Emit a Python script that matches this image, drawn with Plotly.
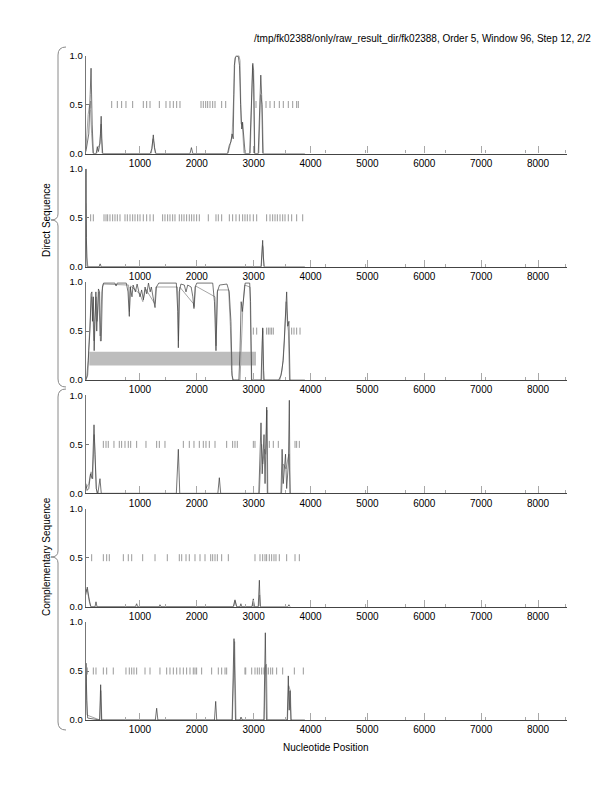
import plotly.graph_objects as go

# ---------------- data ----------------
TITLE = "/tmp/fk02388/only/raw_result_dir/fk02388, Order 5, Window 96, Step 12, 2/2"
X_TICKS = [1000, 2000, 3000, 4000, 5000, 6000, 7000, 8000]
Y_TICKS = [0.0, 0.5, 1.0]
Y_TICK_TEXT = ["0.0", "0.5", "1.0"]

P1_BLACK_X = [50, 100, 125, 140, 160, 180, 230, 250, 270, 290, 305, 318, 330, 345, 1180, 1210, 1235, 1255, 1280,
              1880, 1905, 1930, 2540, 2570, 2600, 2620, 2640, 2660, 2680, 2700, 2730, 2750, 2770, 2790, 2805, 2820,
              2850, 2930, 2950, 2970, 2985, 3000, 3015, 3080, 3105, 3125, 3140, 3160, 3180, 3900]
P1_BLACK_Y = [0.02, 0.2, 0.6, 0.87, 0.3, 0, 0, 0.07, 0.02, 0.08, 0.2, 0.38, 0.15, 0, 0, 0.05, 0.19, 0.06, 0,
              0, 0.06, 0, 0, 0.08, 0.12, 0.2, 0.15, 0.9, 0.98, 0.99, 0.99, 0.9, 0.5, 0.25, 0.32, 0.2,
              0, 0, 0.4, 0.85, 0.92, 0.7, 0, 0, 0.5, 0.8, 0.6, 0, 0, 0]
P1_GRAY_X = [50, 90, 115, 130, 150, 175, 240, 260, 300, 315, 335, 1200, 1230, 1250, 1270, 2550, 2590, 2620, 2650,
             2670, 2690, 2740, 2760, 2780, 2800, 2830, 2940, 2960, 2980, 3000, 3020, 3090, 3120, 3150, 3170]
P1_GRAY_Y = [0.05, 0.4, 0.5, 0.45, 0.2, 0, 0, 0.06, 0.1, 0.3, 0, 0, 0.15, 0.1, 0, 0, 0.1, 0.18, 0.6,
             0.97, 1.0, 1.0, 0.95, 0.3, 0.3, 0, 0, 0.6, 0.9, 0.85, 0, 0, 0.6, 0.5, 0]
P1_MARKS = [133, 503, 602, 678, 754, 872, 1059, 1118, 1177, 1341, 1458, 1528, 1587, 1646, 1704, 2074, 2114, 2156,
            2191, 2232, 2279, 2320, 2437, 2508, 3041, 3217, 3287, 3363, 3451, 3521, 3609, 3686, 3756, 3785]

P2_BLACK_X = [46, 52, 58, 70, 280, 300, 320, 3130, 3150, 3158, 3170, 3185, 3900]
P2_BLACK_Y = [0.3, 1.0, 0.3, 0, 0, 0.03, 0, 0, 0.15, 0.27, 0.1, 0, 0]
P2_GRAY_X = [46, 55, 65, 85, 3135, 3155, 3165, 3180]
P2_GRAY_Y = [0.65, 0.4, 0.1, 0, 0, 0.22, 0.2, 0]
P2_MARKS = [133, 180, 368, 403, 432, 473, 520, 561, 602, 649, 737, 778, 825, 872, 913, 960, 1001, 1059, 1118,
            1177, 1235, 1399, 1440, 1487, 1528, 1575, 1616, 1692, 1734, 1775, 1821, 1868, 1909, 1950, 1997, 2044,
            2202, 2337, 2378, 2437, 2572, 2630, 2689, 2748, 2806, 2847, 2888, 2935, 2994, 3053, 3228, 3287, 3334,
            3375, 3416, 3463, 3510, 3551, 3609, 3668, 3756, 3862]

P3_BLACK_X = [50, 80, 100, 120, 140, 155, 165, 180, 195, 210, 225, 240, 255, 270, 290, 305, 320, 340, 360, 560,
              580, 600, 760, 790, 813, 830, 860, 880, 920, 950, 1000, 1030, 1060, 1090, 1120, 1150, 1180, 1200,
              1230, 1265, 1290, 1330, 1640, 1665, 1675, 1690, 1720, 1780, 1810, 1840, 1900, 1930, 1950, 1970,
              2000, 2280, 2310, 2337, 2360, 2400, 2530, 2570, 2600, 2620, 2640, 2740, 2760, 2780, 2800, 2820,
              2850, 2930, 2945, 2965, 3130, 3150, 3160, 3175, 3185, 3440, 3480, 3520, 3550, 3580, 3600, 3620,
              3639, 3900]
P3_BLACK_Y = [0, 0.05, 0.3, 0.5, 0.88, 0.9, 0.6, 0.85, 0.3, 0.7, 0.9, 0.5, 0.85, 0.93, 0.9, 0.4, 0.4, 0.95,
              0.99, 0.99, 0.96, 0.99, 0.99, 0.9, 0.65, 0.95, 0.85, 0.97, 0.9, 0.98, 0.85, 0.92, 0.82, 0.95, 0.88,
              0.99, 0.9, 0.95, 0.85, 0.74, 0.95, 0.99, 0.99, 0.7, 0.33, 0.9, 0.98, 0.97, 0.9, 0.97, 0.95, 0.85,
              0.73, 0.95, 0.99, 0.99, 0.8, 0.3, 0.9, 0.97, 0.98, 0.9, 0.6, 0.05, 0, 0, 0.3, 0.8, 0.7, 0.85, 0.99,
              0.99, 0.8, 0, 0, 0.4, 0.53, 0.1, 0, 0, 0.05, 0.2, 0.6, 0.9, 0.55, 0.6, 0, 0]
P3_GRAY_X = [60, 90, 110, 130, 150, 170, 190, 205, 230, 250, 275, 300, 330, 355, 800, 815, 835, 1000, 1050,
             1100, 1260, 1280, 1660, 1678, 1700, 1940, 1955, 1980, 2320, 2340, 2365, 2560, 2590, 2610, 2630,
             2760, 2790, 2810, 2840, 2935, 2960, 3140, 3158, 3172, 3460, 3500, 3540, 3570, 3590, 3610, 3630]
P3_GRAY_Y = [0.02, 0.2, 0.45, 0.7, 0.85, 0.7, 0.4, 0.6, 0.85, 0.6, 0.9, 0.45, 0.9, 0.98, 0.97, 0.7, 0.96, 0.88,
             0.8, 0.93, 0.78, 0.95, 0.95, 0.4, 0.95, 0.78, 0.75, 0.96, 0.85, 0.35, 0.92, 0.92, 0.55, 0.1, 0,
             0, 0.5, 0.75, 0.97, 0.95, 0, 0, 0.5, 0, 0, 0.1, 0.4, 0.8, 0.6, 0.5, 0]
P3_MARKS = [2994, 3053, 3158, 3228, 3258, 3287, 3316, 3345, 3668, 3709, 3756, 3815]
P3_BAR_X = [110, 3041]
P3_BAR_Y = [0.148, 0.289]

P4_BLACK_X = [50, 70, 100, 130, 160, 192, 210, 230, 260, 297, 320, 1640, 1675, 1700, 2370, 2396, 2420, 3090, 3129,
              3150, 3182, 3200, 3229, 3240, 3480, 3500, 3520, 3560, 3580, 3610, 3627, 3639, 3900]
P4_BLACK_Y = [0.1, 0.03, 0.05, 0.2, 0.15, 0.7, 0.4, 0.05, 0, 0.15, 0, 0, 0.45, 0, 0, 0.16, 0, 0, 0.72,
              0.2, 0.6, 0.1, 0.88, 0, 0, 0.45, 0.1, 0.4, 0.05, 0.3, 0.95, 0, 0]
P4_GRAY_X = [50, 100, 140, 170, 195, 215, 240, 3100, 3140, 3160, 3190, 3210, 3235, 3250, 3490, 3520, 3570,
             3600, 3620, 3645]
P4_GRAY_Y = [0.05, 0.1, 0.22, 0.15, 0.6, 0.3, 0, 0, 0.5, 0.3, 0.45, 0.4, 0.85, 0, 0, 0.3, 0.25, 0.35, 0.4, 0]
P4_MARKS = [356, 403, 443, 543, 637, 678, 737, 795, 837, 942, 1106, 1294, 1341, 1440, 1763, 1868, 1950, 2044,
            2114, 2161, 2220, 2320, 2525, 2630, 2671, 2712, 2994, 3023, 3275, 3345, 3433, 3727, 3756, 3803]

P5_BLACK_X = [46, 74, 100, 133, 210, 227, 245, 920, 942, 960, 1340, 1352, 1370, 2640, 2671, 2700, 2760, 2775,
              2790, 2970, 2994, 3010, 3080, 3100, 3115, 3600, 3620, 3640]
P5_BLACK_Y = [0.12, 0.2, 0.1, 0, 0, 0.05, 0, 0, 0.03, 0, 0, 0.02, 0, 0, 0.07, 0, 0, 0.03, 0, 0, 0.08, 0, 0,
              0.27, 0, 0, 0.02, 0]
P5_GRAY_X = [46, 70, 110, 140, 2650, 2675, 2700, 2975, 2995, 3015, 3085, 3105, 3120]
P5_GRAY_Y = [0.15, 0.18, 0.05, 0, 0, 0.06, 0, 0, 0.06, 0, 0, 0.12, 0]
P5_MARKS = [151, 356, 415, 461, 708, 795, 855, 1048, 1265, 1481, 1692, 1734, 1810, 1868, 1968, 2056, 2144, 2244,
            2279, 2320, 2361, 2437, 2554, 3023, 3111, 3158, 3199, 3228, 3275, 3316, 3357, 3392, 3451, 3580, 3727,
            3803]

P6_BLACK_X = [46, 52, 65, 80, 290, 309, 325, 1270, 1294, 1315, 2310, 2332, 2350, 2620, 2654, 2680, 2760, 2777,
              2800, 3180, 3205, 3225, 3590, 3609, 3625, 3639, 3655, 3900]
P6_BLACK_Y = [0.4, 0.58, 0.2, 0.02, 0, 0.36, 0, 0, 0.12, 0, 0, 0.19, 0, 0, 0.83, 0, 0, 0.03, 0, 0, 0.89, 0,
              0, 0.45, 0.1, 0.3, 0, 0]
P6_GRAY_X = [46, 55, 70, 295, 312, 330, 2625, 2650, 2665, 2690, 3185, 3205, 3225, 3240, 3595, 3615, 3645, 3660]
P6_GRAY_Y = [0.5, 0.45, 0.05, 0, 0.3, 0, 0, 0.6, 0.8, 0, 0, 0.55, 0.57, 0, 0, 0.35, 0.3, 0]
P6_MARKS = [74, 180, 227, 356, 415, 531, 754, 813, 855, 895, 942, 1089, 1177, 1352, 1470, 1528, 1587, 1646,
            1704, 1763, 1821, 1880, 1938, 1968, 1997, 2085, 2261, 2378, 2437, 2496, 2525, 2847, 2860, 2965, 3023,
            3064, 3099, 3141, 3181, 3228, 3258, 3299, 3334, 3404, 3510, 3715, 3873]

PANELS = [
    (P1_GRAY_X, P1_GRAY_Y, P1_BLACK_X, P1_BLACK_Y, P1_MARKS),
    (P2_GRAY_X, P2_GRAY_Y, P2_BLACK_X, P2_BLACK_Y, P2_MARKS),
    (P3_GRAY_X, P3_GRAY_Y, P3_BLACK_X, P3_BLACK_Y, P3_MARKS),
    (P4_GRAY_X, P4_GRAY_Y, P4_BLACK_X, P4_BLACK_Y, P4_MARKS),
    (P5_GRAY_X, P5_GRAY_Y, P5_BLACK_X, P5_BLACK_Y, P5_MARKS),
    (P6_GRAY_X, P6_GRAY_Y, P6_BLACK_X, P6_BLACK_Y, P6_MARKS),
]
MARK_LEVEL = 0.5
X_RANGE = [46, 8510]
GROUP_LABELS = ["Direct Sequence", "Complementary Sequence"]
X_TITLE = "Nucleotide Position"

# ---------------- layout helpers ----------------
W, H = 612, 792
FONT = "Liberation Sans, Arial, Helvetica, sans-serif"


def fx(p):
    return p / W


def fy(p):
    return 1 - p / H


LEFT_PX, RIGHT_PX = 85.7, 567.0
TOPS = [55.5, 168.8, 282.1, 395.4, 508.7, 622.0]
PANEL_H = 98.0

fig = go.Figure()
layout = dict(
    width=W, height=H, margin=dict(l=0, r=0, t=0, b=0, autoexpand=False),
    paper_bgcolor="white", plot_bgcolor="white", showlegend=False,
    font=dict(family=FONT, size=10, color="black"),
)

for i, (gx, gy, bx, by, marks) in enumerate(PANELS):
    n = i + 1
    xa = "x" if n == 1 else f"x{n}"
    ya = "y" if n == 1 else f"y{n}"
    top = TOPS[i]
    bot = top + PANEL_H
    layout["xaxis" if n == 1 else f"xaxis{n}"] = dict(
        domain=[fx(LEFT_PX), fx(RIGHT_PX)], anchor=ya, range=X_RANGE, automargin=False,
        showgrid=False, zeroline=False, showline=True, linecolor="#444444", linewidth=1.2,
        tickvals=X_TICKS, ticks="inside", ticklen=7, tickcolor="#a8a8a8", tickwidth=1,
        tickfont=dict(family=FONT, size=10, color="black"),
        minor=dict(ticks="inside", ticklen=3, tick0=748, dtick=704, tickcolor="#a8a8a8", tickwidth=1),
    )
    layout["yaxis" if n == 1 else f"yaxis{n}"] = dict(
        domain=[fy(bot), fy(top)], anchor=xa, range=[0, 1], automargin=False,
        showgrid=False, zeroline=False, showline=True, linecolor="#777777", linewidth=1,
        tickvals=Y_TICKS, ticktext=Y_TICK_TEXT, ticks="inside", ticklen=3, tickcolor="#777777",
        tickfont=dict(family=FONT, size=9.5, color="black"),
    )
    fig.add_trace(go.Scatter(
        x=marks, y=[MARK_LEVEL] * len(marks), xaxis=xa, yaxis=ya, mode="markers",
        marker=dict(symbol="line-ns", size=5, line=dict(width=1, color="#9a9a9a")),
        cliponaxis=False, hoverinfo="skip"))
    fig.add_trace(go.Scatter(x=gx, y=gy, xaxis=xa, yaxis=ya, mode="lines",
                             line=dict(color="#a6a6a6", width=1), cliponaxis=False))
    fig.add_trace(go.Scatter(x=bx, y=by, xaxis=xa, yaxis=ya, mode="lines",
                             line=dict(color="#3a3a3a", width=0.7), cliponaxis=False))

fig.update_layout(**layout)

fig.add_shape(type="rect", xref="x3", yref="y3", x0=P3_BAR_X[0], x1=P3_BAR_X[1],
              y0=P3_BAR_Y[0], y1=P3_BAR_Y[1], fillcolor="#bdbdbd", line=dict(width=0), layer="below")


def brace(top, tip, bottom):
    xe, xl, xt = 66, 58, 51
    pts = [
        f"M {fx(xe)},{fy(top)}",
        f"Q {fx(xl)},{fy(top)} {fx(xl)},{fy(top + 8)}",
        f"L {fx(xl)},{fy(tip - 6)}",
        f"Q {fx(xl)},{fy(tip)} {fx(xt)},{fy(tip)}",
        f"Q {fx(xl)},{fy(tip)} {fx(xl)},{fy(tip + 6)}",
        f"L {fx(xl)},{fy(bottom - 8)}",
        f"Q {fx(xl)},{fy(bottom)} {fx(xe)},{fy(bottom)}",
    ]
    return " ".join(pts)


for (t, m, b), label in zip([(47, 220, 387), (389, 557, 730)], GROUP_LABELS):
    fig.add_shape(type="path", xref="paper", yref="paper", path=brace(t, m, b),
                  line=dict(color="#8a8a8a", width=1))
    fig.add_annotation(text=label, xref="paper", yref="paper", x=fx(46), y=fy(m), textangle=-90,
                       showarrow=False, xanchor="center", yanchor="middle",
                       font=dict(family=FONT, size=10, color="black"))

fig.add_annotation(text=TITLE, xref="paper", yref="paper", x=fx(593), y=fy(38), showarrow=False,
                   xanchor="right", yanchor="middle", font=dict(family=FONT, size=10, color="black"))
fig.add_annotation(text=X_TITLE, xref="paper", yref="paper", x=fx(326), y=fy(747), showarrow=False,
                   xanchor="center", yanchor="middle", font=dict(family=FONT, size=10, color="black"))

fig.write_html(
    "out.html",
    config={"displayModeBar": False},
    post_script="document.documentElement.style.overflow='hidden';document.body.style.margin='0px';"
                "document.body.style.padding='0px';document.body.style.overflow='hidden';",
)
